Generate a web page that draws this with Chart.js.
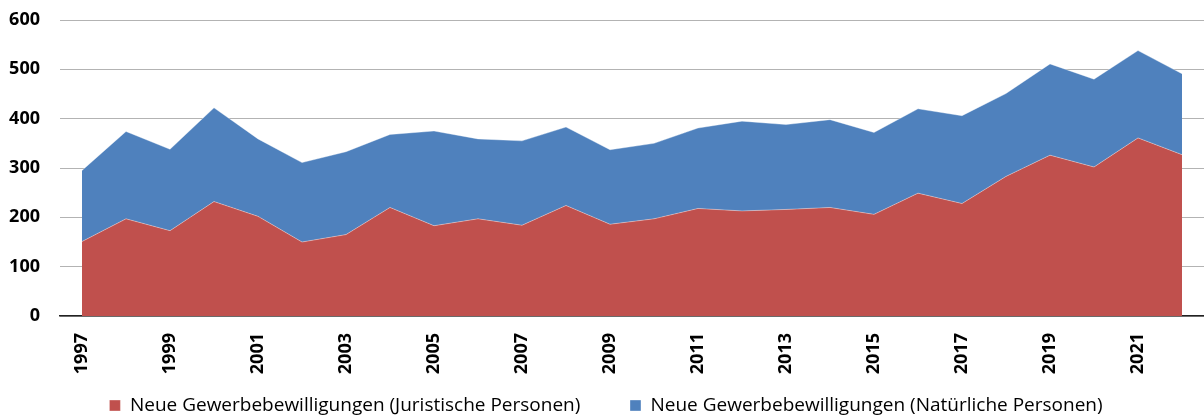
<!DOCTYPE html>
<html>
<head>
<meta charset="utf-8">
<script src="https://cdn.jsdelivr.net/npm/chart.js@4"></script>
<style>
  html, body { margin: 0; padding: 0; background: #fff; }
  #wrap { width: 1204px; height: 419px; }
</style>
</head>
<body>
<div id="wrap"><canvas id="areaChart"></canvas></div>
<script>
const years = ['1997', '1998', '1999', '2000', '2001', '2002', '2003', '2004', '2005', '2006', '2007', '2008', '2009',
  '2010', '2011', '2012', '2013', '2014', '2015', '2016', '2017', '2018', '2019', '2020', '2021', '2022'];

// Neue Gewerbebewilligungen (Juristische Personen)
const juristisch = [151, 197, 173, 232, 202, 150, 165, 220, 183, 197, 184, 224, 186,
  197, 218, 213, 216, 220, 206, 249, 228, 283, 326, 302, 361, 327];

// Neue Gewerbebewilligungen (Natürliche Personen)
const natuerlich = [144, 177, 165, 190, 157, 161, 168, 148, 192, 162, 171, 159, 151,
  153, 163, 182, 172, 178, 166, 171, 178, 168, 185, 178, 177, 164];

const yTicks = [0, 100, 200, 300, 400, 500, 600];

const ctx = document.getElementById('areaChart').getContext('2d');

new Chart(ctx, {
  type: 'line',
  data: {
    labels: years,
    datasets: [
      {
        label: 'Neue Gewerbebewilligungen (Juristische Personen)',
        data: juristisch,
        backgroundColor: '#C0504D',
        borderColor: 'rgba(255,255,255,0.35)',
        borderWidth: 1,
        pointRadius: 0,
        fill: 'origin',
        tension: 0
      },
      {
        label: 'Neue Gewerbebewilligungen (Natürliche Personen)',
        data: natuerlich,
        backgroundColor: '#4F81BD',
        borderColor: 'rgba(255,255,255,0.35)',
        borderWidth: 1,
        pointRadius: 0,
        fill: '-1',
        tension: 0
      }
    ]
  },
  options: {
    responsive: true,
    maintainAspectRatio: false,
    animation: false,
    layout: { padding: { left: 8, right: 0, top: 20, bottom: -6 } },
    plugins: {
      legend: {
        position: 'bottom',
        labels: {
          color: '#000',
          font: { family: 'Open Sans', size: 19 },
          boxWidth: 11,
          boxHeight: 11,
          padding: 20,
          // wider gap between the two entries without extra vertical room
          generateLabels: function (chart) {
            const items = Chart.defaults.plugins.legend.labels.generateLabels(chart);
            items[0].text += '      ';
            return items;
          }
        }
      },
      tooltip: { enabled: false }
    },
    scales: {
      x: {
        offset: true,
        grid: { display: false, drawTicks: false },
        border: { display: true, color: '#222', width: 1.5 },
        afterFit: function (axis) {
          axis.height = 60;
          axis.paddingLeft = 0;
          axis.paddingRight = 0;
        },
        ticks: {
          autoSkip: false,
          maxRotation: 90,
          minRotation: 90,
          padding: 17,
          color: '#000',
          font: { family: 'Open Sans', size: 18, weight: 'bold' },
          callback: function (value, index) {
            return index % 2 === 0 ? years[index] : '';
          }
        }
      },
      y: {
        stacked: true,
        min: 0,
        max: 600,
        afterBuildTicks: function (axis) {
          axis.ticks = yTicks.map(v => ({ value: v }));
        },
        afterFit: function (axis) {
          axis.width = 52;
          axis.paddingTop = 0;
          axis.paddingBottom = 0;
        },
        grid: { color: '#b3b3b3', drawTicks: false },
        border: { display: false },
        ticks: {
          padding: 20,
          color: '#000',
          font: { family: 'Open Sans', size: 18, weight: 'bold' }
        }
      }
    }
  }
});
</script>
</body>
</html>
